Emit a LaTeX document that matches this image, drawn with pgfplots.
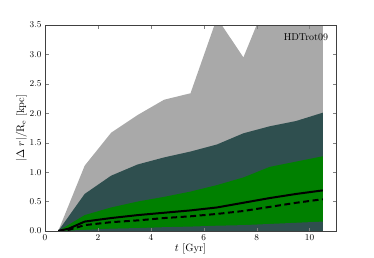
\documentclass[border=0pt]{standalone}
\usepackage{pgfplots}
\pgfplotsset{compat=1.18}
\definecolor{dgray}{HTML}{A9A9A9}
\definecolor{dslate}{HTML}{2F4F4F}
\definecolor{mgreen}{HTML}{008000}
\begin{document}
\begin{tikzpicture}
\path[use as bounding box] (-45pt,-26pt) rectangle (329pt,231pt);
\begin{axis}[
  at={(0,0)}, anchor=south west,
  scale only axis, width=291pt, height=206pt,
  xmin=0, xmax=11, ymin=0, ymax=3.5,
  xtick={0,2,4,6,8,10}, ytick={0,0.5,...,3.5},
  yticklabel style={/pgf/number format/.cd, fixed, fixed zerofill, precision=1},
  tick label style={font=\fontsize{9}{10}\selectfont},
  label style={font=\fontsize{10.5}{12}\selectfont},
  tick align=inside, major tick length=3.5pt,
  xtick pos=both, ytick pos=both,
  axis on top,
  axis line style={draw=black!75},
  xlabel={$t$ [Gyr]}, ylabel={$|\Delta\; r|/\mathrm{R_e}$ [kpc]},
  xlabel shift=-4pt, ylabel shift=-4pt,
]
\addplot[fill=dgray, draw=none] coordinates {
 (0.5,0) (1.5,1.11) (2.5,1.67) (3.5,1.97) (4.5,2.23) (5.5,2.34) (6.5,3.62) (7.5,2.95) (8.5,4.05) (9.5,4.6) (10.5,4.8)} \closedcycle;
\addplot[fill=dslate, draw=none] coordinates {
 (0.5,0) (1.5,0.63) (2.5,0.94) (3.5,1.13) (4.5,1.25) (5.5,1.35) (6.5,1.47) (7.5,1.66) (8.5,1.78) (9.5,1.87) (10.5,2.01)} \closedcycle;
\addplot[fill=mgreen, draw=none] coordinates {
 (0.5,0) (1.5,0.27) (2.5,0.40) (3.5,0.50) (4.5,0.58) (5.5,0.67) (6.5,0.78) (7.5,0.91) (8.5,1.09) (9.5,1.18) (10.5,1.27)} \closedcycle;
\addplot[fill=dslate, draw=none] coordinates {
 (0.5,0) (1.5,0.02) (2.5,0.04) (3.5,0.05) (4.5,0.065) (5.5,0.075) (6.5,0.09) (7.5,0.10) (8.5,0.12) (9.5,0.14) (10.5,0.16)} \closedcycle;
\addplot[black, line width=2pt] coordinates {
 (0.5,0) (0.9,0.04) (1.5,0.16) (2.5,0.22) (3.5,0.27) (4.5,0.31) (5.5,0.35) (6.5,0.40) (7.5,0.48) (8.5,0.56) (9.5,0.63) (10.5,0.69)};
\addplot[black, line width=2pt, dash pattern=on 6pt off 3.5pt] coordinates {
 (0.5,0) (0.9,0.02) (1.5,0.10) (2.5,0.15) (3.5,0.18) (4.5,0.22) (5.5,0.25) (6.5,0.29) (7.5,0.34) (8.5,0.41) (9.5,0.48) (10.5,0.54)};
\node[anchor=north east, font=\fontsize{10}{12}\selectfont] at (rel axis cs:0.985,0.975) {HDTrot09};
\end{axis}
\end{tikzpicture}
\end{document}
